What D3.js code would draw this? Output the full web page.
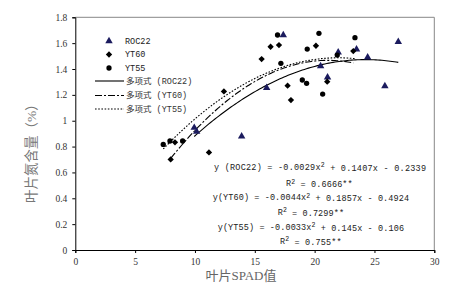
<!DOCTYPE html>
<html><head><meta charset="utf-8">
<script src="https://cdn.jsdelivr.net/npm/d3@7"></script>
<style>body{margin:0;background:#fff}svg{display:block}</style>
</head><body>
<svg id="c" width="465" height="303"></svg>
<script>
// ---- data ----
const seriesNames = ["ROC22", "YT60", "YT55"];
const roc22X = [9.94,10.14,13.9,15.99,17.38,20.5,21.08,21.97,23.5,24.43,25.87,26.99];
const roc22Y = [0.946,0.915,0.88,1.255,1.663,1.423,1.336,1.529,1.552,1.49,1.268,1.611];
const yt60X = [7.97,8.33,11.17,12.42,15.57,16.32,17.02,17.74,18.02,20.11,21.05,23.23];
const yt60Y = [0.701,0.833,0.755,1.227,1.477,1.572,1.585,1.271,1.16,1.58,1.302,1.539];
const yt55X = [7.35,7.91,8.97,16.9,17.18,18.97,19.33,19.38,20.36,20.67,21.89,23.37];
const yt55Y = [0.817,0.843,0.843,1.663,1.444,1.315,1.289,1.554,1.676,1.206,1.508,1.642];
// trendline coefficients (a, b, c) for y = a x^2 + b x + c
const roc22Fit = [-0.0029, 0.1407, -0.2339];
const yt60Fit = [-0.0044, 0.1857, -0.4924];
const yt55Fit = [-0.0033, 0.145, -0.106];
const eqLabels = ["y (ROC22) = -0.0029x", "y(YT60) = -0.0044x", "y(YT55) = -0.0033x"];
const eqTails = [" + 0.1407x - 0.2339", " + 0.1857x - 0.4924", " + 0.145x - 0.106"];
const r2Labels = ["0.6666**", "0.7299**", "0.755**"];
const xTicks = [0,5,10,15,20,25,30];
const yTicks = [0,0.2,0.4,0.6,0.8,1,1.2,1.4,1.6,1.8];
const legendLabels = ["ROC22","YT60","YT55","多项式 (ROC22)","多项式 (YT60)","多项式 (YT55)"];

// ---- layout ----
const svg = d3.select("#c");
const L = 75.3, R = 434.3, T = 17.3, B = 250;
const x = d3.scaleLinear().domain([0,30]).range([L,R]);
const y = d3.scaleLinear().domain([0,1.8]).range([B,T]);
const tickFont = "'Liberation Serif','DejaVu Serif',serif";
const cjkFont = "'Liberation Serif','Noto Sans CJK SC',serif";

// frame (grey top/right)
svg.append("path").attr("d", `M${L},${T}H${R}V${B}`).attr("fill","none").attr("stroke","#888").attr("stroke-width",1);

// axes
const xAxis = d3.axisBottom(x).tickValues(xTicks).tickSize(3).tickFormat(d3.format("d"));
const gx = svg.append("g").attr("transform",`translate(0,${B})`).call(xAxis);
gx.select(".domain").attr("stroke","#000");
gx.selectAll(".tick line").attr("stroke","#000");
gx.selectAll("text").attr("font-family",tickFont).attr("font-size",9.5).attr("fill","#333").attr("dy","0.95em").attr("y",6);

const yAxis = d3.axisLeft(y).tickValues(yTicks).tickSize(3).tickFormat(d => d===0||d===1 ? d3.format("d")(d) : d3.format(".1f")(d));
const gy = svg.append("g").attr("transform",`translate(${L},0)`).call(yAxis);
gy.select(".domain").attr("stroke","#000");
gy.selectAll(".tick line").attr("stroke","#000");
gy.selectAll("text").attr("font-family",tickFont).attr("font-size",9.5).attr("fill","#333").attr("x",-8);

// axis titles
svg.append("text").attr("x",241).attr("y",280).attr("text-anchor","middle")
  .attr("font-family",cjkFont).attr("font-size",13).attr("fill","#666").text("叶片SPAD值");
svg.append("text").attr("transform","translate(36,150) rotate(-90)").attr("text-anchor","middle")
  .attr("font-family",cjkFont).attr("font-size",13.5).attr("fill","#777").text("叶片氮含量（%）");

// trend curves
const fits = [
  {coef: roc22Fit, xs: roc22X, dash: null},
  {coef: yt60Fit, xs: yt60X, dash: "7,2,2,2"},
  {coef: yt55Fit, xs: yt55X, dash: "1.6,1.6"}
];
const line = d3.line().x(d=>x(d[0])).y(d=>y(d[1]));
fits.forEach(f => {
  const [a,b,c] = f.coef;
  const [x0,x1] = d3.extent(f.xs);
  const pts = d3.range(0,101).map(i => { const xv = x0 + (x1-x0)*i/100; return [xv, a*xv*xv + b*xv + c]; });
  svg.append("path").attr("d", line(pts)).attr("fill","none").attr("stroke","#000")
    .attr("stroke-width",1.1).attr("stroke-dasharray", f.dash);
});

// markers
const tri = d3.symbol().type(d3.symbolTriangle).size(24);
const dia = d3.symbol().type(d3.symbolSquare).size(20);
const cir = d3.symbol().type(d3.symbolCircle).size(22);
svg.append("g").selectAll("path").data(d3.zip(roc22X, roc22Y)).join("path")
  .attr("d", tri).attr("fill","#1b1b5e").attr("transform", d=>`translate(${x(d[0])},${y(d[1])})`);
svg.append("g").selectAll("path").data(d3.zip(yt60X, yt60Y)).join("path")
  .attr("d", dia).attr("fill","#000").attr("transform", d=>`translate(${x(d[0])},${y(d[1])}) rotate(45)`);
svg.append("g").selectAll("path").data(d3.zip(yt55X, yt55Y)).join("path")
  .attr("d", cir).attr("fill","#000").attr("transform", d=>`translate(${x(d[0])},${y(d[1])})`);

// legend
const legFont = "'Liberation Mono','Noto Sans CJK SC',monospace";
const legYs = [41, 54.5, 68, 81, 95.5, 109];
const legSyms = [[tri,"#1b1b5e",0],[dia,"#000",45],[cir,"#000",0]];
legSyms.forEach((s,i) => {
  svg.append("path").attr("d", s[0]).attr("fill", s[1]).attr("transform",`translate(109,${legYs[i]}) rotate(${s[2]})`);
  svg.append("text").attr("x",125).attr("y",legYs[i]).attr("dy","0.35em")
    .attr("font-family",legFont).attr("font-size",8.5).attr("fill","#222").text(legendLabels[i]);
});
fits.forEach((f,i) => {
  const yy = legYs[3+i];
  svg.append("line").attr("x1",95).attr("x2",124).attr("y1",yy).attr("y2",yy)
    .attr("stroke","#000").attr("stroke-width",1.1).attr("stroke-dasharray", f.dash);
  svg.append("text").attr("x",126).attr("y",yy).attr("dy","0.35em")
    .attr("font-family",legFont).attr("font-size",8.5).attr("fill","#333").text(legendLabels[3+i]);
});

// equations
const eqPos = [[214,167,212],[212.7,197.5,196.3],[217.7,227,186.3]];
const r2Pos = [[286,183.5,66.7],[277.7,212,66.3],[280,241,61.7]];
const eqFont = "'Liberation Mono','DejaVu Sans Mono',monospace";
eqPos.forEach((p,i) => {
  const t = svg.append("text").attr("x",p[0]).attr("y",p[1]).attr("dy","0.35em")
    .attr("font-family",eqFont).attr("font-size",8.5).attr("fill","#222")
    .attr("textLength",p[2]).attr("lengthAdjust","spacing");
  t.append("tspan").text(eqLabels[i]);
  t.append("tspan").attr("dy","-0.4em").attr("font-size",6.5).text("2");
  t.append("tspan").attr("dy","0.4em").text(eqTails[i]);
  const r = r2Pos[i];
  const t2 = svg.append("text").attr("x",r[0]).attr("y",r[1]).attr("dy","0.35em")
    .attr("font-family",eqFont).attr("font-size",8.5).attr("fill","#222")
    .attr("textLength",r[2]).attr("lengthAdjust","spacing");
  t2.append("tspan").text("R");
  t2.append("tspan").attr("dy","-0.4em").attr("font-size",6.5).text("2");
  t2.append("tspan").attr("dy","0.4em").text(" = " + r2Labels[i]);
});
</script>
</body></html>
